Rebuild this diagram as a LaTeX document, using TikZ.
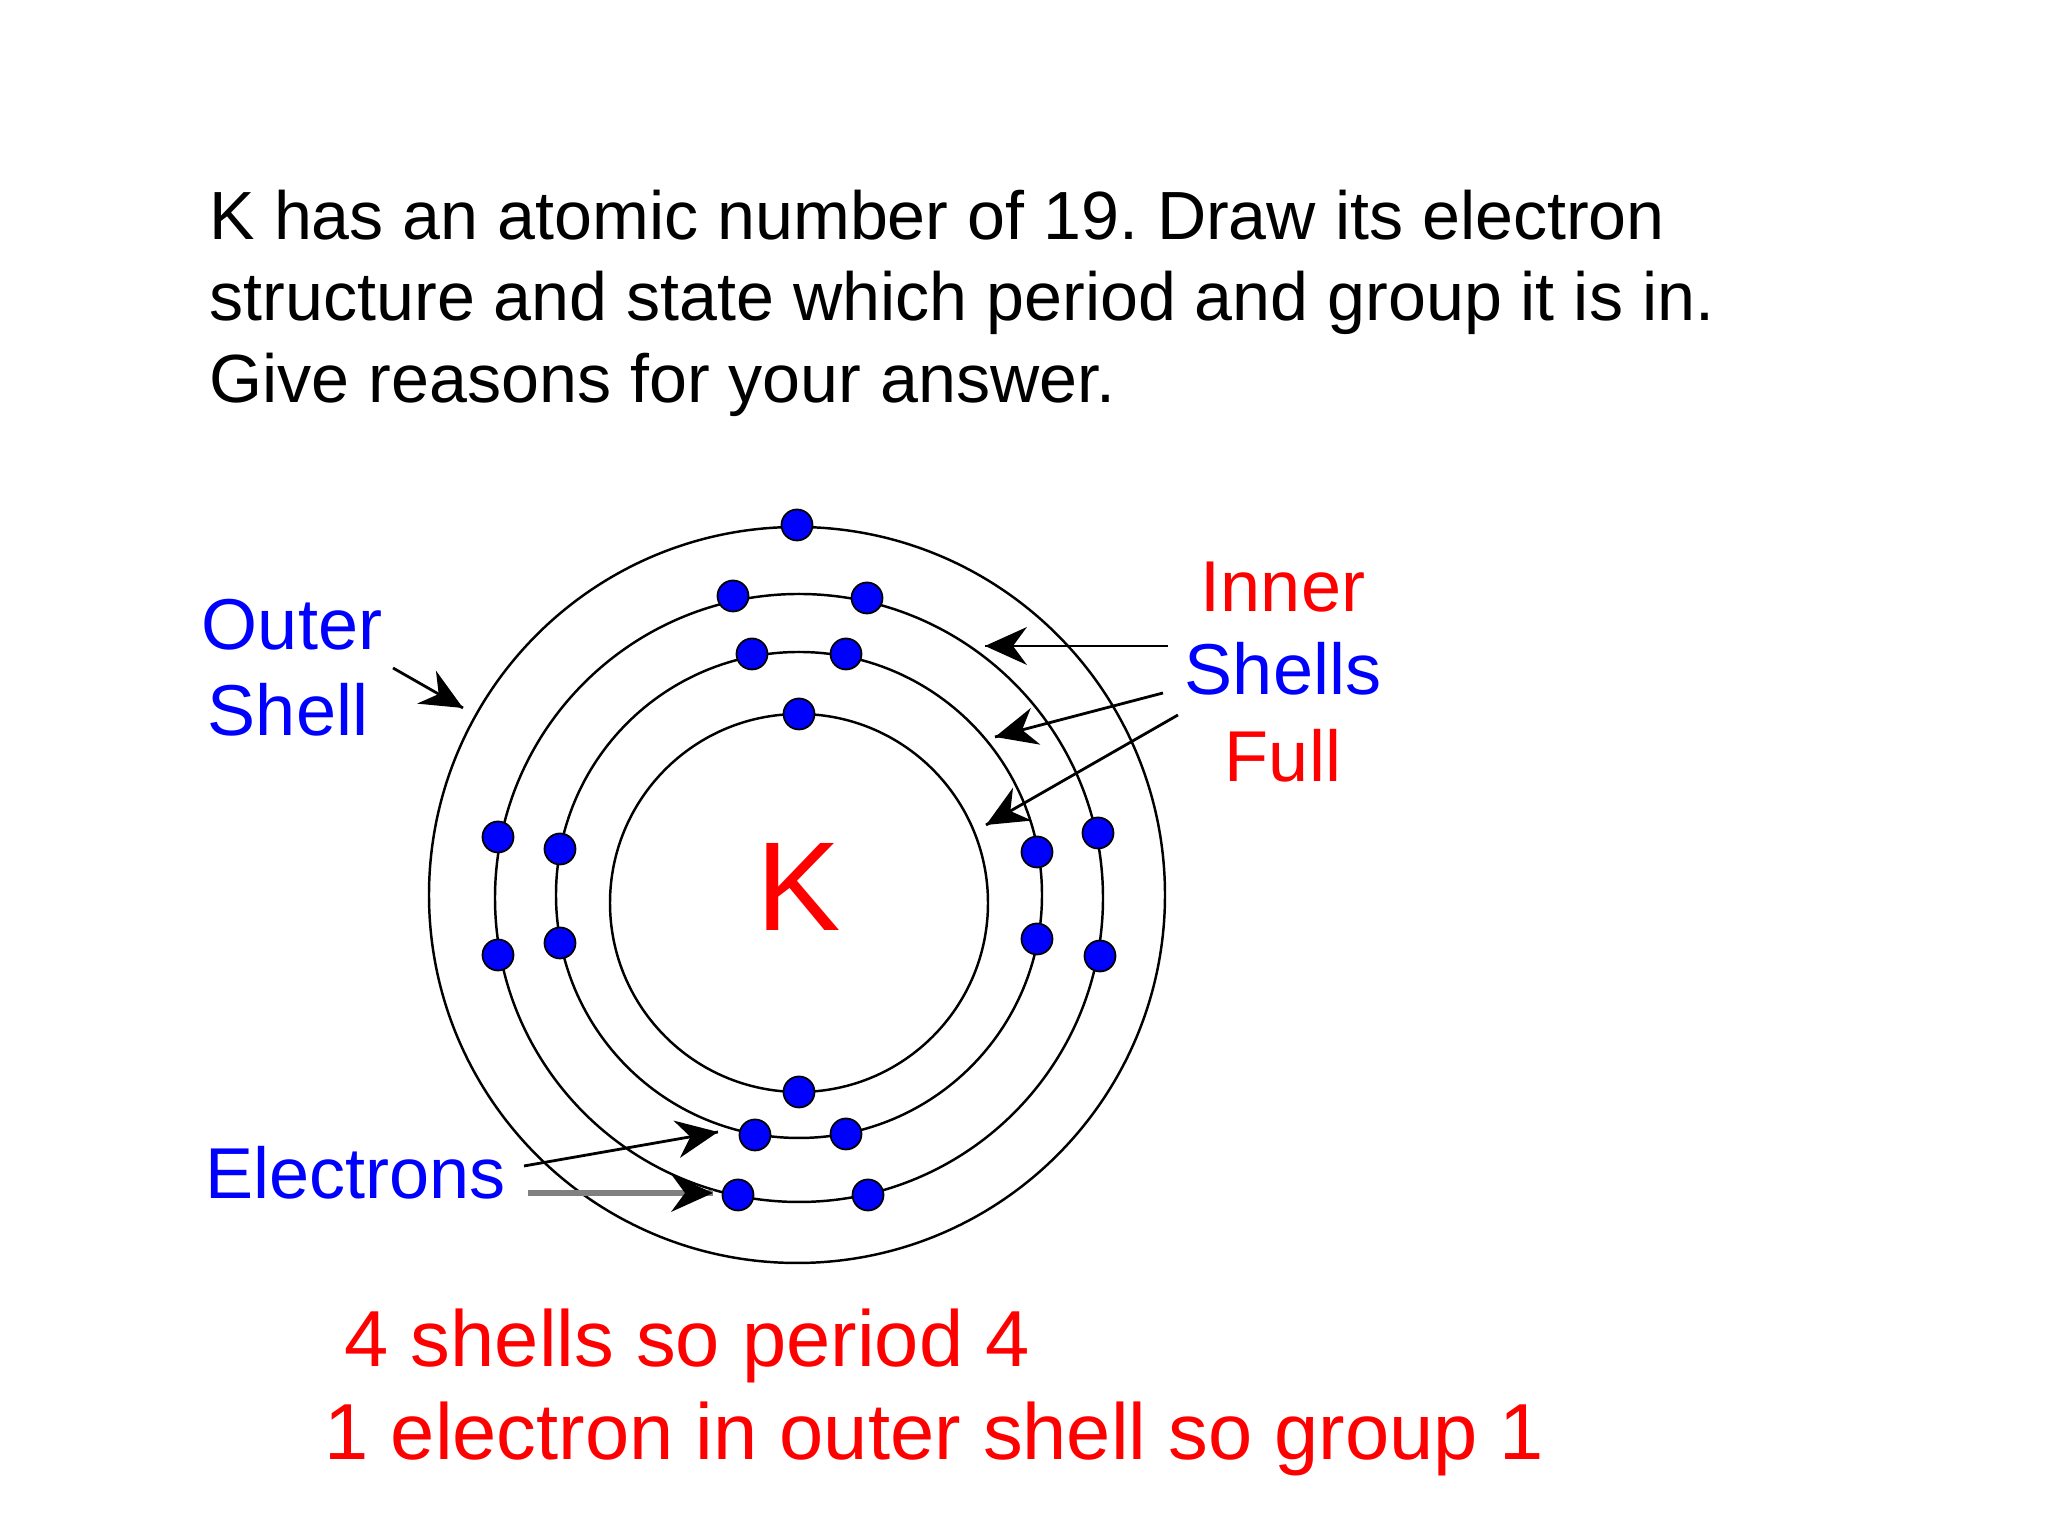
\documentclass[tikz,border=0pt]{standalone}
\usepackage{fontspec}
\setmainfont{Liberation Sans}
\usetikzlibrary{arrows.meta}
\usetikzlibrary{decorations.markings}
\tikzset{pointer/.style = {decoration={markings,
                                       mark=at position 1 with {\arrow{Stealth[black, length=0.42cm, width=0.38cm, inset=0.14cm, line width=0pt]}}},
                           postaction={decorate}}}
\tikzset{shell/.style = {draw, circle, line width=0.7pt, inner sep=0}}
\tikzset{electron/.style = {draw, circle, fill=eblue, line width=0.5pt, minimum size=0.31cm, inner sep=0}}
\tikzset{shelltext/.style = {inner sep=0, anchor=base, font=\fontsize{20.5}{24}\selectfont}}
\tikzset{answer/.style = {inner sep=0, anchor=base west, text=ered, font=\fontsize{22.62}{27}\selectfont}}
\definecolor{ered}{rgb}{1, 0, 0}
\definecolor{eblue}{rgb}{0, 0, 1}
\frenchspacing

\begin{document}
\begin{tikzpicture}
    \useasboundingbox (0, 0) rectangle (20.48, 15.36);

    \node (question) [inner sep=0, anchor=north west, align=left, font=\fontsize{19.4}{23.3}\selectfont] at (2.09, 13.47)
        {K has an atomic number of 19. Draw its electron\\
         structure and state which period and group it is in.\\
         Give reasons for your answer.};

    \node (shell4) [shell, minimum size=7.36cm] at (7.97, 6.41) {};
    \node (shell3) [shell, minimum size=6.08cm] at (7.99, 6.38) {};
    \node (shell2) [shell, minimum size=4.86cm] at (7.99, 6.41) {};
    \node (shell1) [shell, minimum size=3.78cm] at (7.99, 6.33) {};

    \foreach \n/\x/\y in {1/7.97/10.11, 2/7.33/9.40, 3/8.67/9.38, 4/7.52/8.82, 5/8.46/8.82,
                          6/7.99/8.22, 7/4.98/6.99, 8/5.60/6.87, 9/10.37/6.84, 10/10.98/7.03,
                          11/4.98/5.81, 12/5.60/5.93, 13/10.37/5.97, 14/11.00/5.80, 15/7.99/4.44,
                          16/7.55/4.01, 17/8.46/4.02, 18/7.38/3.41, 19/8.68/3.41}
        \node (e\n) [electron] at (\x, \y) {};

    \node (symbol) [text=ered, font=\fontsize{36}{42}\selectfont] at (7.99, 6.49) {K};

    \node (outer) [shelltext, text=eblue] at (2.92, 8.86) {Outer};
    \node (shellname) [shelltext, text=eblue] at (2.88, 8.00) {Shell};
    \node (inner) [shelltext, text=ered] at (12.83, 9.24) {Inner};
    \node (shells) [shelltext, text=eblue] at (12.83, 8.41) {Shells};
    \node (full) [shelltext, text=ered] at (12.83, 7.54) {Full};
    \node (electrons) [shelltext, anchor=base west, text=eblue] at (2.05, 3.37) {Electrons};

    \coordinate (outertail) at (3.93, 8.68);
    \coordinate (outertip) at (4.63, 8.28);
    \coordinate (innertail1) at (11.68, 8.90);
    \coordinate (innertip1) at (9.85, 8.90);
    \coordinate (innertail2) at (11.63, 8.43);
    \coordinate (innertip2) at (9.95, 7.99);
    \coordinate (innertail3) at (11.78, 8.21);
    \coordinate (innertip3) at (9.86, 7.11);
    \coordinate (etail1) at (5.24, 3.70);
    \coordinate (etip1) at (7.18, 4.04);
    \coordinate (etail2) at (5.28, 3.43);
    \coordinate (etip2) at (7.13, 3.43);

    \draw [pointer, line width=0.8pt] (outertail) -- (outertip);
    \draw [pointer, line width=0.8pt] (innertail1) -- (innertip1);
    \draw [pointer, line width=0.8pt] (innertail2) -- (innertip2);
    \draw [pointer, line width=0.8pt] (innertail3) -- (innertip3);
    \draw [pointer, line width=0.8pt] (etail1) -- (etip1);
    \draw [pointer, gray, line width=1.6pt] (etail2) -- (etip2);

    \node (answer1) [answer] at (3.44, 1.69) {4 shells so period 4};
    \node (answer2) [answer] at (3.24, 0.76) {1 electron in outer shell so group 1};
\end{tikzpicture}
\end{document}
